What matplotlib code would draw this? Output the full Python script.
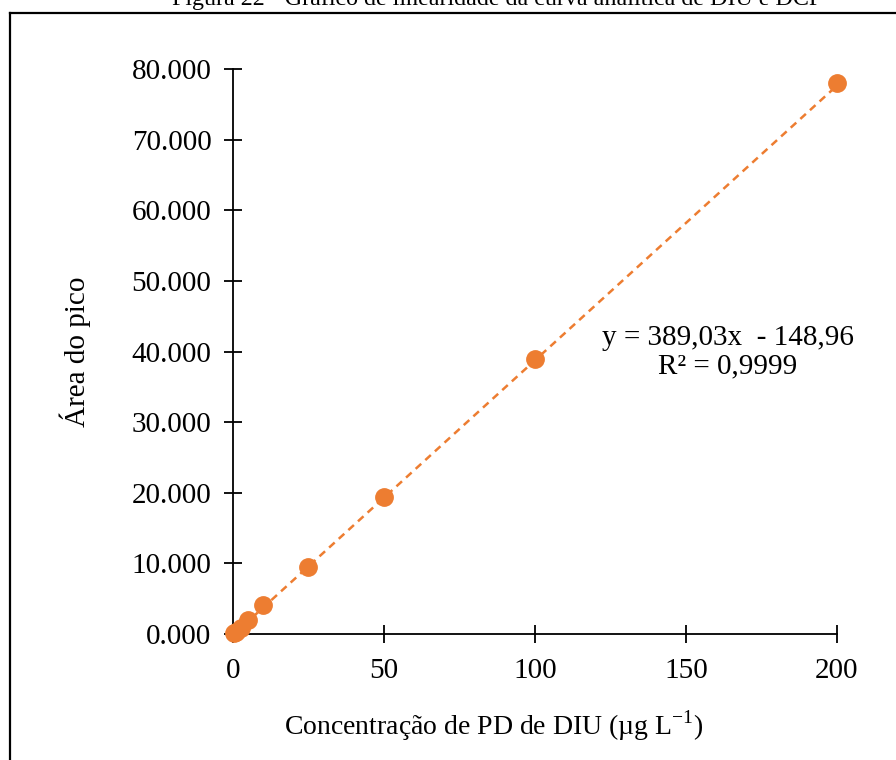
import numpy as np
import matplotlib
matplotlib.use("Agg")
import matplotlib.pyplot as plt
from matplotlib.lines import Line2D

# data
conc = [0.5, 1, 2.5, 5, 10, 25, 50, 100, 200]
area = [120, 300, 800, 2000, 4100, 9500, 19400, 38900, 78000]
slope = 389.03
intercept = -148.96
x_ticks = [0, 50, 100, 150, 200]
y_ticks = [0, 10000, 20000, 30000, 40000, 50000, 60000, 70000, 80000]
y_tick_labels = ["0.000", "10.000", "20.000", "30.000", "40.000",
                 "50.000", "60.000", "70.000", "80.000"]

orange = "#ED7D31"
plt.rcParams['font.family'] = ['Liberation Serif', 'DejaVu Serif']
plt.rcParams['mathtext.fontset'] = 'custom'
plt.rcParams['mathtext.rm'] = 'Liberation Serif'

fig = plt.figure(figsize=(8.96, 7.6), dpi=100)
ax = fig.add_axes([0.260, 0.1658, 0.674, 0.7432])

# trendline
xl = np.array([0, 200])
ax.plot(xl, slope * xl + intercept, ls=(0, (3, 2.2)), color=orange, lw=1.8, zorder=2)
ax.plot(conc, area, 'o', color=orange, ms=12.5, zorder=3, clip_on=False)

ax.set_xlim(0, 200)
ax.set_ylim(0, 80000)
ax.set_xticks(x_ticks)
ax.set_yticks(y_ticks)
ax.set_yticklabels(y_tick_labels)
for s in ['top', 'right']:
    ax.spines[s].set_visible(False)
for s in ['left', 'bottom']:
    ax.spines[s].set_linewidth(1.3)
ax.tick_params(direction='inout', length=13, width=1.3, labelsize=21)
ax.tick_params(axis='x', pad=11)
ax.tick_params(axis='y', pad=9)

ax.set_ylabel("Área do pico", fontsize=21, labelpad=29)
fig.text(494 / 896, 1 - 726 / 760, "Concentração de PD de DIU (µg L$^{\\mathregular{-1}}$)",
         fontsize=20, ha='center', va='center')

ax.text(0.8195, 0.499, "y = 389,03x  - 148,96\nR² = 0,9999", transform=ax.transAxes,
        fontsize=21, ha='center', va='center', linespacing=1.1)

# frame around the figure (cut off at right and bottom)
fig.add_artist(Line2D([9.5 / 896, 9.5 / 896], [0, 1 - 12.5 / 760],
                      transform=fig.transFigure, color='black', lw=1.6))
fig.add_artist(Line2D([9.5 / 896, 1], [1 - 12.5 / 760, 1 - 12.5 / 760],
                      transform=fig.transFigure, color='black', lw=1.6))

# caption cut off at top, as in the source page
fig.text(497 / 896, 1 - 5 / 760, "Figura 22 - Gráfico de linearidade da curva analítica de DIU e DCP",
         fontsize=17.3, ha='center', va='baseline')

fig.savefig("out.png", dpi=100)
